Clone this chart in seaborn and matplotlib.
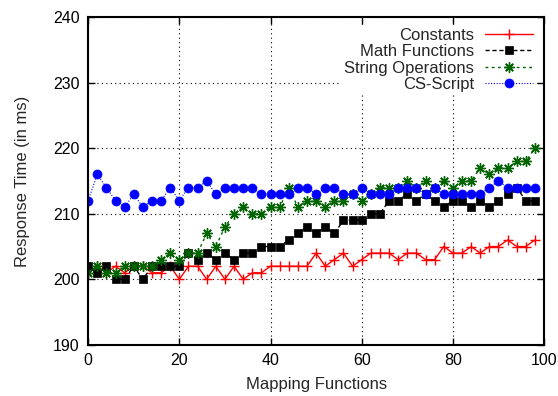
import matplotlib
matplotlib.use("Agg")
import matplotlib.pyplot as plt
import seaborn as sns

# mapping functions count (x) and response times (ms)
mapping_functions = list(range(0, 100, 2))

constants = [201, 202, 201, 202, 201, 202, 202, 201, 201, 202,
             200, 202, 202, 200, 202, 200, 202, 200, 201, 201,
             202, 202, 202, 202, 202, 204, 202, 203, 204, 202,
             203, 204, 204, 204, 203, 204, 204, 203, 203, 205,
             204, 204, 205, 204, 205, 205, 206, 205, 205, 206]

math_functions = [202, 201, 202, 200, 200, 202, 200, 202, 202, 202,
                  202, 204, 203, 204, 203, 204, 203, 204, 204, 205,
                  205, 205, 206, 207, 208, 207, 208, 207, 209, 209,
                  209, 210, 210, 212, 212, 213, 212, 213, 212, 211,
                  212, 212, 211, 212, 211, 212, 213, 214, 212, 212]

string_operations = [201, 202, 201, 201, 202, 202, 202, 202, 203, 204,
                     203, 204, 204, 207, 205, 208, 210, 211, 210, 210,
                     211, 211, 214, 211, 212, 212, 211, 212, 212, 213,
                     212, 213, 214, 214, 214, 215, 214, 215, 214, 215,
                     214, 215, 215, 217, 216, 217, 217, 218, 218, 220]

cs_script = [212, 216, 214, 212, 211, 213, 211, 212, 212, 214,
             212, 214, 214, 215, 213, 214, 214, 214, 214, 213,
             213, 213, 213, 214, 214, 213, 214, 214, 213, 213,
             214, 213, 213, 213, 214, 214, 214, 213, 214, 213,
             213, 213, 213, 213, 214, 215, 214, 214, 214, 214]

x_ticks = [0, 20, 40, 60, 80, 100]
y_ticks = [190, 200, 210, 220, 230, 240]

sns.set_style("ticks")
plt.rcParams["font.family"] = ["Liberation Sans", "DejaVu Sans"]

fig = plt.figure(figsize=(5.58, 3.96), dpi=100)
ax = fig.add_axes([0.158, 0.129, 0.817, 0.828])

sns.lineplot(x=mapping_functions, y=constants, ax=ax, label="Constants",
             color="#ff0000", linestyle="-", linewidth=1.0,
             marker="+", markersize=7, markeredgecolor="#ff0000", markeredgewidth=1.0)
sns.lineplot(x=mapping_functions, y=math_functions, ax=ax, label="Math Functions",
             color="black", linestyle=(0, (3, 2)), linewidth=1.0,
             marker="s", markersize=6, markeredgecolor="black", markeredgewidth=0.5)
sns.lineplot(x=mapping_functions, y=string_operations, ax=ax, label="String Operations",
             color="#006400", linestyle=(0, (2, 2.5)), linewidth=1.0,
             marker=(8, 2, 0), markersize=7.5, markeredgecolor="#006400", markeredgewidth=1.0)
sns.lineplot(x=mapping_functions, y=cs_script, ax=ax, label="CS-Script",
             color="#0000ff", linestyle=(0, (1, 1.5)), linewidth=0.8,
             marker="o", markersize=6.5, markeredgecolor="#0000ff", markeredgewidth=0.5)

ax.set_xlim(0, 100)
ax.set_ylim(190, 240)
ax.set_xticks(x_ticks)
ax.set_yticks(y_ticks)
ax.tick_params(direction="in", length=5, width=1, top=True, right=True,
               labelsize=11.5, pad=6, colors="black")
for s in ax.spines.values():
    s.set_visible(True)
    s.set_linewidth(1.5)
    s.set_color("black")
ax.grid(True, color="black", linestyle=(0, (1, 3)), linewidth=0.8)

ax.set_xlabel("Mapping Functions", fontsize=12, labelpad=6)
ax.set_ylabel("Response Time (in ms)", fontsize=12, labelpad=17)

# key on the right, text before the sample like gnuplot; white box hides the grid
leg = ax.legend(loc="upper right", markerfirst=False, frameon=True, fancybox=False,
                fontsize=12, handlelength=2.9, handletextpad=0.65,
                labelspacing=0.08, borderaxespad=0.45, borderpad=0.2)
leg.get_frame().set_facecolor("white")
leg.get_frame().set_edgecolor("none")
leg.get_frame().set_alpha(1)

fig.savefig("out.png", dpi=100)
